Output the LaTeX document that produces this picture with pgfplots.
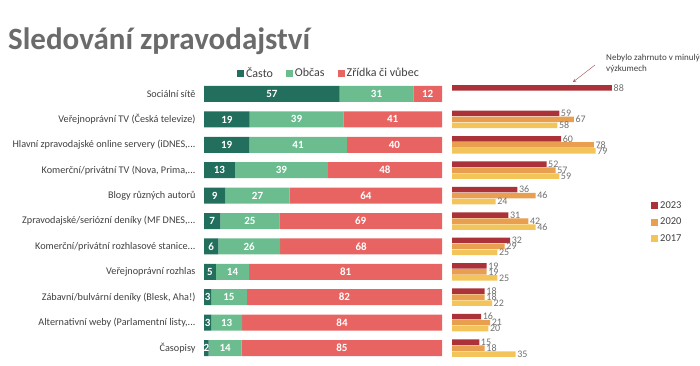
\documentclass[border=0pt]{standalone}
\usepackage{pgfplots}
\pgfplotsset{compat=1.18}
\usepackage{pgfplotstable}
\usepackage{fontspec}
\setmainfont{Carlito}
\definecolor{cCasto}{HTML}{236F5D}
\definecolor{cObcas}{HTML}{6BBD8F}
\definecolor{cZridka}{HTML}{E86462}
\definecolor{cA}{HTML}{AA3238}
\definecolor{cB}{HTML}{E8A050}
\definecolor{cC}{HTML}{F2C45A}
\definecolor{titlegray}{HTML}{6B6B6B}
\definecolor{labgray}{HTML}{404040}
\definecolor{numgray}{HTML}{707070}
\pgfplotsset{/pgf/number format/assume math mode=true}

\pgfplotstableread[col sep=semicolon]{
row;name;c;o;z
0;Sociální sítě;57;31;12
1;Veřejnoprávní TV (Česká televize);19;39;41
2;Hlavní zpravodajské online servery (iDNES,...;19;41;40
3;Komerční/privátní TV (Nova, Prima,...;13;39;48
4;Blogy různých autorů;9;27;64
5;Zpravodajské/seriózní deníky (MF DNES,...;7;25;69
6;Komerční/privátní rozhlasové stanice...;6;26;68
7;Veřejnoprávní rozhlas;5;14;81
8;Zábavní/bulvární deníky (Blesk, Aha!);3;15;82
9;Alternativní weby (Parlamentní listy,...;3;13;84
10;Časopisy;2;14;85
}\datatable

\pgfplotstableread{
row y2023 y2020 y2017
0 88 nan nan
1 59 67 58
2 60 78 79
3 52 57 59
4 36 46 24
5 31 42 46
6 32 29 25
7 19 19 25
8 18 18 22
9 16 21 20
10 15 18 35
}\trendtable

\pgfplotsset{
  rowaxis/.style={
    scale only axis, height=279.4pt,
    ymin=-0.5, ymax=10.5, y dir=reverse,
    axis line style={draw=none}, tick style={draw=none},
    xtick=\empty, clip=false,
  },
  sqlegend/.style={
    legend image code/.code={\fill[##1,draw=none] (0pt,-3.5pt) rectangle (7pt,3.5pt);}
  },
}

\begin{document}
\begin{tikzpicture}[x=1pt,y=1pt]
\useasboundingbox (0,0) rectangle (700,366);
\node[anchor=base west, inner sep=0pt, font=\fontsize{31}{33}\selectfont\bfseries, text=titlegray] at (8,316) {Sledování zpravodajství};

% left stacked bars
\begin{axis}[rowaxis,
  at={(204pt,5.3pt)}, anchor=south west, width=238pt,
  xmin=0, xmax=100,
  xbar stacked, bar width=16pt,
  ytick={0,...,10},
  yticklabels from table={\datatable}{name},
  yticklabel style={font=\fontsize{10.2}{12}\selectfont, text=labgray, anchor=east, xshift=-5pt},
  sqlegend,
  legend columns=3,
  legend style={at={(axis description cs:0.525,1.0297)}, anchor=center, draw=none, fill=none,
    font=\fontsize{12}{14}\selectfont, text=labgray,
    /tikz/every even column/.append style={column sep=11pt}},
]
\addplot[fill=cCasto, draw=none] table[y=row, x expr={\thisrow{c}*100/(\thisrow{c}+\thisrow{o}+\thisrow{z})}] {\datatable};
\addplot[fill=cObcas, draw=none] table[y=row, x expr={\thisrow{o}*100/(\thisrow{c}+\thisrow{o}+\thisrow{z})}] {\datatable};
\addplot[fill=cZridka, draw=none] table[y=row, x expr={\thisrow{z}*100/(\thisrow{c}+\thisrow{o}+\thisrow{z})}] {\datatable};
\legend{Často, Občas, Zřídka či vůbec}
\end{axis}

% labels inside stacked bars
\begin{axis}[rowaxis, hide axis,
  at={(204pt,5.3pt)}, anchor=south west, width=238pt,
  xmin=0, xmax=100,
  every node near coord/.append style={anchor=center, text=white, font=\fontsize{11}{13}\selectfont\bfseries},
]
\addplot[draw=none, mark=none, nodes near coords, point meta=explicit] table[y=row, meta=c, x expr={(\thisrow{c}/2)*100/(\thisrow{c}+\thisrow{o}+\thisrow{z})}] {\datatable};
\addplot[draw=none, mark=none, nodes near coords, point meta=explicit] table[y=row, meta=o, x expr={(\thisrow{c}+\thisrow{o}/2)*100/(\thisrow{c}+\thisrow{o}+\thisrow{z})}] {\datatable};
\addplot[draw=none, mark=none, nodes near coords, point meta=explicit] table[y=row, meta=z, x expr={(\thisrow{c}+\thisrow{o}+\thisrow{z}/2)*100/(\thisrow{c}+\thisrow{o}+\thisrow{z})}] {\datatable};
\end{axis}

% right trend bars
\begin{axis}[rowaxis,
  at={(452pt,5.3pt)}, anchor=south west, width=181.8pt,
  xmin=0, xmax=100, ytick=\empty,
  xbar, bar width=5.5pt,
  point meta=x,
  nodes near coords,
  every node near coord/.append style={text=numgray, font=\fontsize{10}{12}\selectfont, inner sep=1.5pt},
]
\addplot[xbar, bar shift=6pt, fill=cA, draw=none] table[y=row, x=y2023] {\trendtable};
\addplot[xbar, bar shift=0pt, fill=cB, draw=none] table[y=row, x=y2020] {\trendtable};
\addplot[xbar, bar shift=-6pt, fill=cC, draw=none] table[y=row, x=y2017] {\trendtable};
\end{axis}

% legend for the trend bars
\begin{axis}[scale only axis, hide axis,
  at={(452pt,5.3pt)}, anchor=south west, width=181.8pt, height=279.4pt,
  xmin=0, xmax=1, ymin=0, ymax=1,
  sqlegend,
  legend style={at={(axis description cs:1.078,0.584)}, anchor=north west, draw=none, fill=none,
    font=\fontsize{10.5}{12}\selectfont, text=labgray, row sep=4pt, legend cell align=left},
]
\addlegendimage{fill=cA}
\addlegendentry{2023}
\addlegendimage{fill=cB}
\addlegendentry{2020}
\addlegendimage{fill=cC}
\addlegendentry{2017}
\end{axis}

\node[anchor=north west, align=left, inner sep=0pt, font=\fontsize{9}{11}\selectfont, text=labgray] at (606,312) {Nebylo zahrnuto v minulých\\výzkumech};
\draw[-stealth, color=cA!70!gray, thin] (595,301) -- (573,284);
\end{tikzpicture}
\end{document}
